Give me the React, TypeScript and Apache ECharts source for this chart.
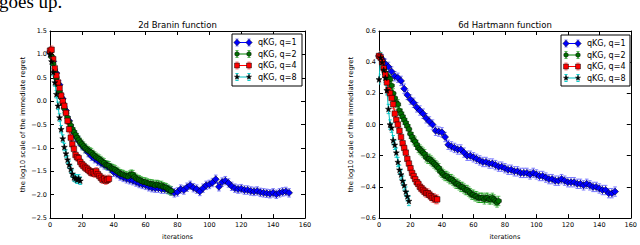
import React, { useEffect, useRef } from "react";
import * as echarts from "echarts";

// ---------- text ----------
const pageText = "goes up.";
const titles = ["2d Branin function", "6d Hartmann function"];
const xLabel = "iterations";
const yLabel = "the log10 scale of the immediate regret";
const legendNames = ["qKG, q=1", "qKG, q=2", "qKG, q=4", "qKG, q=8"];

// ---------- axes ----------
const xMin = 0, xMax = 160, xStep = 20;
const braninYMin = -2.5, braninYMax = 1.5, braninYStep = 0.5;
const hartYMin = -0.6, hartYMax = 0.6, hartYStep = 0.2;

// iteration spacing of each series (q=1 recorded every 2 iterations here)
const seriesStep = [2, 1, 1, 1];

// ---------- 2d Branin ----------
const braninQ1 = [
  1.05, 0.85, 0.6, 0.35, 0.05, -0.2, -0.42, -0.62, -0.75, -0.85,
  -0.95, -1.02, -1.1, -1.18, -1.23, -1.28, -1.32, -1.36, -1.39, -1.44,
  -1.52, -1.55, -1.6, -1.63, -1.66, -1.68, -1.7, -1.73, -1.76, -1.78,
  -1.8, -1.83, -1.85, -1.86, -1.86, -1.88, -1.88, -1.89, -1.92, -1.96,
  -1.94, -1.88, -1.9, -1.84, -1.8, -1.85, -1.88, -1.93, -1.86, -1.8,
  -1.78, -1.74, -1.67, -1.83, -1.73, -1.7, -1.75, -1.82, -1.86, -1.88,
  -1.87, -1.9, -1.9, -1.92, -1.93, -1.92, -1.95, -1.96, -1.97, -1.98,
  -1.96, -1.99, -1.96, -1.94, -1.93, -1.96,
];
const braninQ2 = [
  1.05, 0.95, 0.8, 0.65, 0.5, 0.35, 0.2, 0.08, -0.05, -0.15,
  -0.25, -0.35, -0.45, -0.52, -0.6, -0.66, -0.72, -0.78, -0.83, -0.88,
  -0.92, -0.96, -1.0, -1.03, -1.06, -1.08, -1.1, -1.14, -1.17, -1.2,
  -1.22, -1.24, -1.27, -1.3, -1.32, -1.36, -1.37, -1.38, -1.42, -1.44,
  -1.45, -1.47, -1.5, -1.52, -1.55, -1.56, -1.57, -1.59, -1.6, -1.61,
  -1.58, -1.56, -1.57, -1.62, -1.65, -1.67, -1.68, -1.7, -1.72, -1.73,
  -1.73, -1.75, -1.76, -1.77, -1.77, -1.78, -1.8, -1.78, -1.79, -1.81,
  -1.8, -1.83, -1.84, -1.85, -1.88, -1.9, -1.92,
];
const braninQ4 = [
  1.08, 1.1, 0.9, 0.7, 0.55, 0.4, 0.28, 0.12, 0.0, -0.1,
  -0.25, -0.42, -0.6, -0.78, -0.92, -1.02, -1.15, -1.2, -1.22, -1.3,
  -1.35, -1.38, -1.42, -1.44, -1.47, -1.5, -1.53, -1.52, -1.55, -1.5,
  -1.56, -1.6, -1.64, -1.68, -1.66, -1.7, -1.68, -1.66,
];
const braninQ8 = [
  1.0, 0.85, 0.62, 0.4, 0.15, -0.1, -0.35, -0.6, -0.8, -0.98,
  -1.12, -1.25, -1.36, -1.45, -1.55, -1.63, -1.65, -1.68, -1.65, -1.7,
];
const braninErr = [0.09, 0.09, 0.08, 0.08];

// ---------- 6d Hartmann ----------
const hartQ1 = [
  0.44, 0.42, 0.39, 0.37, 0.34, 0.31, 0.3, 0.28, 0.23, 0.19,
  0.16, 0.14, 0.11, 0.09, 0.07, 0.04, 0.02, 0.0, -0.04, -0.045,
  -0.05, -0.08, -0.13, -0.14, -0.15, -0.16, -0.16, -0.18, -0.2, -0.2,
  -0.21, -0.22, -0.23, -0.24, -0.24, -0.25, -0.25, -0.26, -0.27, -0.27,
  -0.28, -0.29, -0.29, -0.3, -0.3, -0.31, -0.31, -0.31, -0.32, -0.31,
  -0.32, -0.33, -0.33, -0.34, -0.35, -0.35, -0.36, -0.36, -0.35, -0.36,
  -0.37, -0.37, -0.37, -0.38, -0.38, -0.39, -0.38, -0.39, -0.4, -0.4,
  -0.41, -0.42, -0.42, -0.44, -0.44, -0.43,
];
const hartQ2 = [
  0.44, 0.43, 0.4, 0.36, 0.33, 0.31, 0.3, 0.29, 0.25, 0.2,
  0.17, 0.14, 0.13, 0.09, 0.07, 0.05, 0.03, 0.01, -0.01, -0.03,
  -0.06, -0.08, -0.1, -0.11, -0.13, -0.15, -0.16, -0.17, -0.18, -0.19,
  -0.21, -0.22, -0.22, -0.23, -0.24, -0.25, -0.26, -0.27, -0.28, -0.3,
  -0.31, -0.32, -0.33, -0.33, -0.34, -0.35, -0.35, -0.36, -0.37, -0.38,
  -0.38, -0.39, -0.4, -0.4, -0.41, -0.42, -0.42, -0.43, -0.44, -0.45,
  -0.45, -0.46, -0.46, -0.47, -0.47, -0.47, -0.47, -0.48, -0.47, -0.47,
  -0.48, -0.48, -0.47, -0.48, -0.49, -0.5, -0.49,
];
const hartQ4 = [
  0.44, 0.43, 0.4, 0.36, 0.32, 0.27, 0.22, 0.2, 0.17, 0.13,
  0.07, 0.03, 0.0, -0.04, -0.08, -0.12, -0.15, -0.18, -0.22, -0.25,
  -0.28, -0.31, -0.33, -0.35, -0.37, -0.38, -0.4, -0.41, -0.42, -0.43,
  -0.44, -0.44, -0.45, -0.46, -0.47, -0.47, -0.48, -0.48,
];
const hartQ8 = [
  0.29, 0.43, 0.4, 0.35, 0.3, 0.22, 0.1, 0.0, -0.02, -0.1,
  -0.13, -0.18, -0.24, -0.29, -0.32, -0.36, -0.39, -0.43, -0.46, -0.49,
];
const hartErr = [0.03, 0.03, 0.028, 0.03];

// ---------- styles ----------
const lineColors = ["#0000ff", "#008000", "#ff0000", "#00bfbf"];
const errColors = ["rgba(80,80,255,0.7)", "rgba(0,150,0,0.6)", "rgba(255,60,60,0.65)", "rgba(0,200,200,0.9)"];
const markerFill = ["#0000ff", "#007000", "#ff0000", "#000000"];
const markerKinds = ["diamond", "hexagon", "square", "star"];
const markerSizes = [7, 5.5, 5.5, 6];
const FONT = "DejaVu Sans";

function unitShape(kind: string): number[][] {
  if (kind === "diamond") return [[0, -1], [1, 0], [0, 1], [-1, 0]];
  if (kind === "square") return [[-1, -1], [1, -1], [1, 1], [-1, 1]];
  if (kind === "hexagon") {
    const p: number[][] = [];
    for (let k = 0; k < 6; k++) {
      const a = ((-90 + 60 * k) * Math.PI) / 180;
      p.push([Math.cos(a), Math.sin(a)]);
    }
    return p;
  }
  const p: number[][] = [];
  for (let k = 0; k < 10; k++) {
    const a = ((-90 + 36 * k) * Math.PI) / 180;
    const r = k % 2 === 0 ? 1 : 0.4;
    p.push([r * Math.cos(a), r * Math.sin(a)]);
  }
  return p;
}

function symbolPath(kind: string): string {
  const pts = unitShape(kind);
  return (
    "path://" +
    pts.map((q, i) => (i === 0 ? "M" : "L") + (q[0] * 10 + 10).toFixed(3) + "," + (q[1] * 10 + 10).toFixed(3)).join(" ") +
    " Z"
  );
}

function fmtY(v: number): string {
  if (Math.abs(v) < 1e-9) return "0.0";
  const s = v.toFixed(1);
  return s.startsWith("-") ? "\u2212" + s.slice(1) : s;
}

const grids = [
  { left: 50, top: 31, width: 255, height: 197 },
  { left: 379, top: 31, width: 252, height: 197 },
];
const legendBoxes = [
  { x: 232, y: 34, w: 70, h: 52 },
  { x: 561, y: 35, w: 69, h: 51 },
];
const legendRowDy = [8.5, 20, 31.5, 43];

export default function App() {
  const ref = useRef<HTMLDivElement>(null);

  useEffect(() => {
    document.body.style.margin = "0";
    if (!ref.current) return;
    const chart = echarts.init(ref.current, undefined, { renderer: "svg" });

    const datasets = [
      { values: [braninQ1, braninQ2, braninQ4, braninQ8], err: braninErr },
      { values: [hartQ1, hartQ2, hartQ4, hartQ8], err: hartErr },
    ];
    const yRanges = [
      { min: braninYMin, max: braninYMax, step: braninYStep },
      { min: hartYMin, max: hartYMax, step: hartYStep },
    ];

    const axisLine = { show: true, onZero: false, lineStyle: { color: "#000", width: 1 } };
    const xAxes: any[] = [];
    const yAxes: any[] = [];
    const series: any[] = [];
    const graphics: any[] = [];

    grids.forEach((g, gi) => {
      xAxes.push({
        type: "value", gridIndex: gi, min: xMin, max: xMax, interval: xStep, position: "bottom",
        axisLine, axisTick: { show: true, inside: true, length: 4, lineStyle: { color: "#000" } },
        axisLabel: { show: true, color: "#000", fontFamily: FONT, fontSize: 6.5, margin: 3 },
        splitLine: { show: false },
        name: xLabel, nameLocation: "middle", nameGap: 14,
        nameTextStyle: { color: "#000", fontFamily: FONT, fontSize: 6.5 },
      });
      xAxes.push({
        type: "value", gridIndex: gi, min: xMin, max: xMax, interval: xStep, position: "top",
        axisLine, axisTick: { show: true, inside: true, length: 4, lineStyle: { color: "#000" } },
        axisLabel: { show: false }, splitLine: { show: false },
      });
      const yr = yRanges[gi];
      yAxes.push({
        type: "value", gridIndex: gi, min: yr.min, max: yr.max, interval: yr.step, position: "left",
        axisLine, axisTick: { show: true, inside: true, length: 4, lineStyle: { color: "#000" } },
        axisLabel: { show: true, color: "#000", fontFamily: FONT, fontSize: 6.5, margin: 3, formatter: fmtY },
        splitLine: { show: false },
        name: yLabel, nameLocation: "middle", nameGap: gi === 0 ? 24 : 25,
        nameTextStyle: { color: "#000", fontFamily: FONT, fontSize: 6.8 },
      });
      yAxes.push({
        type: "value", gridIndex: gi, min: yr.min, max: yr.max, interval: yr.step, position: "right",
        axisLine, axisTick: { show: true, inside: true, length: 4, lineStyle: { color: "#000" } },
        axisLabel: { show: false }, splitLine: { show: false },
      });

      const ds = datasets[gi];
      ds.values.forEach((vals, si) => {
        const step = seriesStep[si];
        const e = ds.err[si];
        const color = errColors[si];
        series.push({
          type: "custom",
          xAxisIndex: gi * 2,
          yAxisIndex: gi * 2,
          clip: true,
          silent: true,
          z: 2,
          data: vals.map((v, i) => [i * step, v, e]),
          encode: { x: 0, y: 1 },
          renderItem: (_params: any, api: any) => {
            const x = api.value(0), y = api.value(1), err = api.value(2);
            const t = api.coord([x, y + err]);
            const b = api.coord([x, y - err]);
            const cw = 1.8;
            const st = { stroke: color, lineWidth: 1 };
            return {
              type: "group",
              children: [
                { type: "line", shape: { x1: t[0], y1: t[1], x2: b[0], y2: b[1] }, style: st },
                { type: "line", shape: { x1: t[0] - cw, y1: t[1], x2: t[0] + cw, y2: t[1] }, style: st },
                { type: "line", shape: { x1: b[0] - cw, y1: b[1], x2: b[0] + cw, y2: b[1] }, style: st },
              ],
            };
          },
        });
        series.push({
          type: "line",
          name: legendNames[si],
          xAxisIndex: gi * 2,
          yAxisIndex: gi * 2,
          z: 2,
          data: vals.map((v, i) => [i * step, v]),
          symbol: symbolPath(markerKinds[si]),
          symbolSize: markerSizes[si],
          showAllSymbol: true,
          lineStyle: { color: lineColors[si], width: 1 },
          itemStyle: { color: markerFill[si], borderColor: "#000", borderWidth: 0.5 },
          silent: true,
        });
      });

      // legend
      const lb = legendBoxes[gi];
      graphics.push({
        type: "rect", shape: { x: lb.x, y: lb.y, width: lb.w, height: lb.h },
        style: { fill: "#fff", stroke: "#000", lineWidth: 1 }, z: 100,
      });
      legendNames.forEach((name, si) => {
        const cy = lb.y + legendRowDy[si];
        const x1 = lb.x + 5, x2 = lb.x + 17;
        const ec = errColors[si];
        graphics.push({ type: "line", shape: { x1, y1: cy, x2, y2: cy }, style: { stroke: lineColors[si], lineWidth: 1 }, z: 101 });
        [x1, x2].forEach((xx) => {
          graphics.push({ type: "line", shape: { x1: xx, y1: cy - 3.5, x2: xx, y2: cy + 3.5 }, style: { stroke: ec, lineWidth: 1 }, z: 101 });
          graphics.push({ type: "line", shape: { x1: xx - 1.6, y1: cy - 3.5, x2: xx + 1.6, y2: cy - 3.5 }, style: { stroke: ec, lineWidth: 1 }, z: 101 });
          graphics.push({ type: "line", shape: { x1: xx - 1.6, y1: cy + 3.5, x2: xx + 1.6, y2: cy + 3.5 }, style: { stroke: ec, lineWidth: 1 }, z: 101 });
          const r = markerSizes[si] / 2 - 0.3;
          graphics.push({
            type: "polygon",
            shape: { points: unitShape(markerKinds[si]).map((q) => [xx + q[0] * r, cy + q[1] * r]) },
            style: { fill: markerFill[si], stroke: "#000", lineWidth: 0.5 },
            z: 102,
          });
        });
        graphics.push({
          type: "text", x: lb.x + 26, y: cy, z: 102,
          style: { text: name, fill: "#000", font: `8px "${FONT}"`, verticalAlign: "middle", align: "left" },
        });
      });

      graphics.push({
        type: "text", x: g.left + g.width / 2, y: g.top - 6, z: 102,
        style: { text: titles[gi], fill: "#000", font: `8.5px "${FONT}"`, verticalAlign: "middle", align: "center" },
      });
    });

    graphics.push({
      type: "text", x: -1, y: 1.5, z: 102,
      style: { text: pageText, fill: "#000", font: `19px "Liberation Serif"`, verticalAlign: "middle", align: "left" },
    });

    chart.setOption({
      animation: false,
      backgroundColor: "#fff",
      grid: grids.map((g) => ({ ...g, containLabel: false })),
      xAxis: xAxes,
      yAxis: yAxes,
      series,
      graphic: graphics,
    });

    return () => chart.dispose();
  }, []);

  return (
    <div
      ref={ref}
      style={{ position: "absolute", left: 0, top: 0, width: 640, height: 245 }}
    />
  );
}
